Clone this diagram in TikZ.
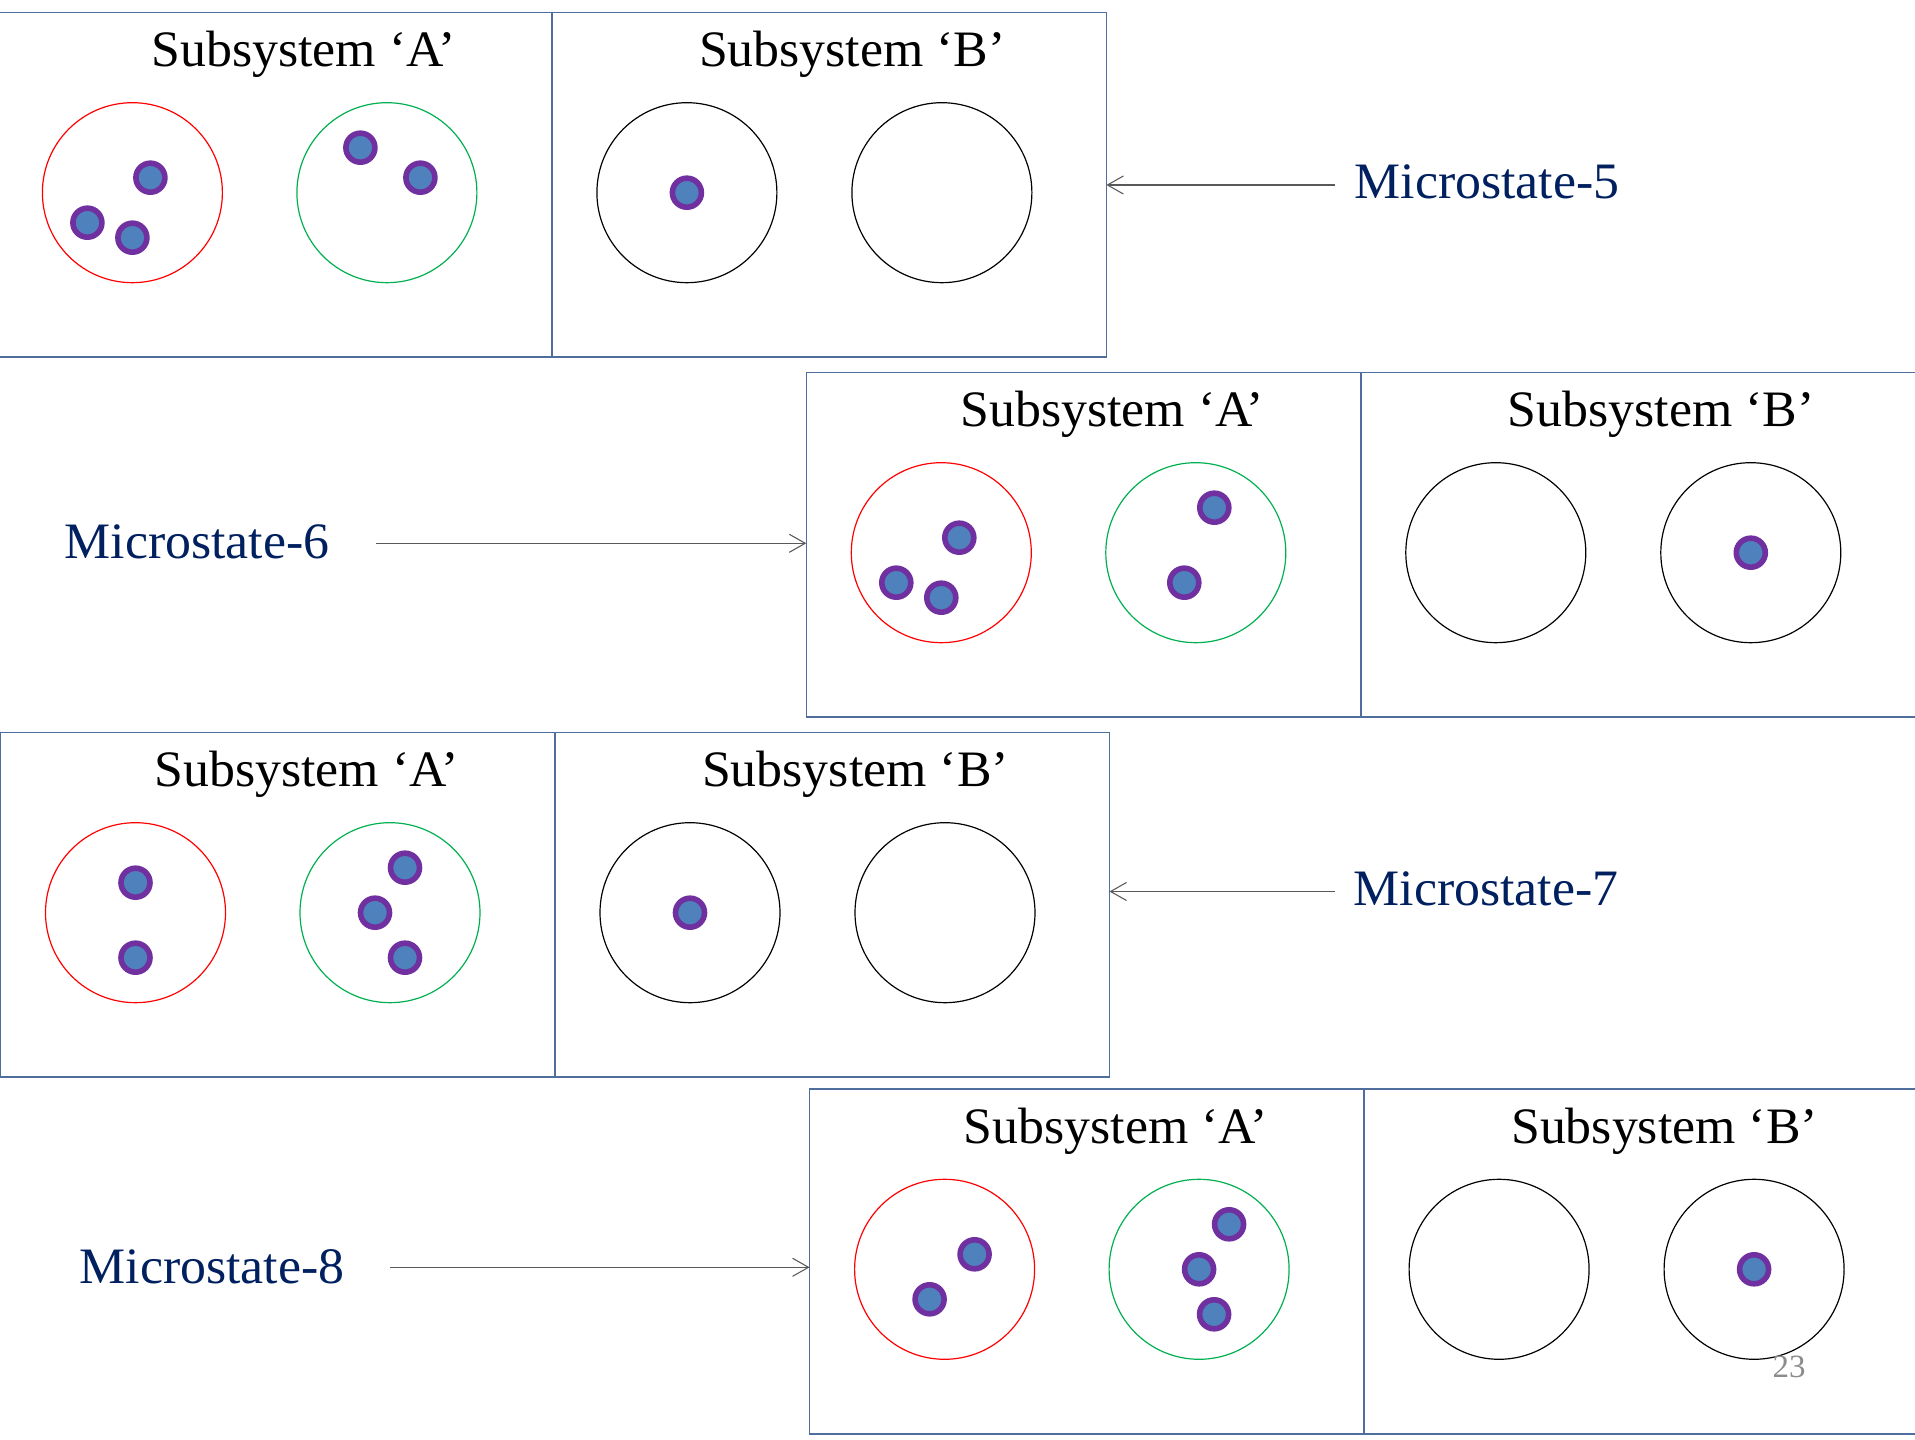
\documentclass[tikz,border=0pt]{standalone}
\usepackage{fontspec}
\setmainfont[FakeStretch=1.015]{Liberation Serif}
\usetikzlibrary{arrows.meta}

\definecolor{frameblue}{HTML}{4F6E9E}
\definecolor{labelnavy}{HTML}{002060}
\definecolor{dotfill}{HTML}{4F81BD}
\definecolor{dotring}{HTML}{7030A0}
\definecolor{cellgreen}{HTML}{00B050}
\definecolor{pagegray}{HTML}{8C8C8C}
\definecolor{conngray}{HTML}{595959}

\tikzset{
  panelbox/.style={draw=frameblue, line width=0.6pt, minimum width=416.96pt,
    minimum height=129.56pt, inner sep=0pt, outer sep=0pt},
  divider/.style={draw=frameblue, line width=0.6pt},
  heading/.style={font=\fontsize{19.2}{23}\selectfont, inner sep=0pt},
  statelabel/.style={font=\fontsize{19.2}{23}\selectfont, text=labelnavy, inner sep=0pt},
  pagenum/.style={font=\fontsize{12.2}{14}\selectfont, text=pagegray, inner sep=0pt},
  cellA1/.style={draw=red, line width=0.45pt},
  cellA2/.style={draw=cellgreen, line width=0.45pt},
  cellB/.style={draw=black, line width=0.45pt},
  particle/.style={draw=dotring, fill=dotfill, line width=2.1pt},
  conn/.style={draw=conngray, line width=0.4pt,
    -{Straight Barb[length=6pt,width=6.8pt]}},
}

% one microstate: frame, two halves, four cells (local coordinates in px)
\newcommand\statepanel[1]{%
  \node[panelbox, anchor=north west] (#1) at (0,0) {};
  \draw[divider] (#1.north) -- (#1.south);
  \node[heading, anchor=base] (#1-ta) at (306,54) {Subsystem ‘A’};
  \node[heading, anchor=base] (#1-tb) at (855,54) {Subsystem ‘B’};
  \draw[cellA1] (135,180) circle[radius=90];
  \draw[cellA2] (389.5,180) circle[radius=90];
  \draw[cellB] (689.5,180) circle[radius=90];
  \draw[cellB] (944.5,180) circle[radius=90];
}
\newcommand\particleat[2]{\draw[particle] (#1,#2) circle[radius=14.5];}

\begin{document}
\begin{tikzpicture}[x=0.37598pt, y=-0.37598pt]
  \fill[white] (0,0) rectangle (1915,1440);
  \useasboundingbox (0,0) rectangle (1915,1440);

  % Microstate-5
  \begin{scope}[shift={(-2.6,12.7)}]
    \statepanel{p1}
    \particleat{153}{165}\particleat{90}{210}\particleat{135}{225}
    \particleat{363}{135}\particleat{423}{165}
    \particleat{689.5}{180}
  \end{scope}

  % Microstate-6
  \begin{scope}[shift={(806.3,372.7)}]
    \statepanel{p2}
    \particleat{153}{165}\particleat{90}{210}\particleat{135}{225}
    \particleat{408}{135}\particleat{378}{210}
    \particleat{944.5}{180}
  \end{scope}

  % Microstate-7
  \begin{scope}[shift={(0.5,732.7)}]
    \statepanel{p3}
    \particleat{135}{150}\particleat{135}{225}
    \particleat{404.5}{135}\particleat{374.5}{180}\particleat{404.5}{225}
    \particleat{689.5}{180}
  \end{scope}

  % Microstate-8
  \begin{scope}[shift={(809.6,1089.3)}]
    \statepanel{p4}
    \particleat{165}{165}\particleat{120}{210}
    \particleat{419.5}{135}\particleat{389.5}{180}\particleat{404.5}{225}
    \particleat{944.5}{180}
  \end{scope}

  % labels and pointers
  \node[statelabel, anchor=base west] (m5) at (1354,199) {Microstate-5};
  \node[statelabel, anchor=base west] (m6) at (64,559) {Microstate-6};
  \node[statelabel, anchor=base west] (m7) at (1353,906) {Microstate-7};
  \node[statelabel, anchor=base west] (m8) at (79,1284) {Microstate-8};

  \coordinate (a5) at (1335,185);
  \coordinate (a6) at (375.7,543.3);
  \coordinate (a7) at (1335,891.5);
  \coordinate (a8) at (390,1267.3);
  \draw[conn] (a5) -- (a5 -| p1.east);
  \draw[conn] (a6) -- (a6 -| p2.west);
  \draw[conn] (a7) -- (a7 -| p3.east);
  \draw[conn] (a8) -- (a8 -| p4.west);

  \node[pagenum, anchor=base west] (pg) at (1772,1378) {23};
\end{tikzpicture}
\end{document}
